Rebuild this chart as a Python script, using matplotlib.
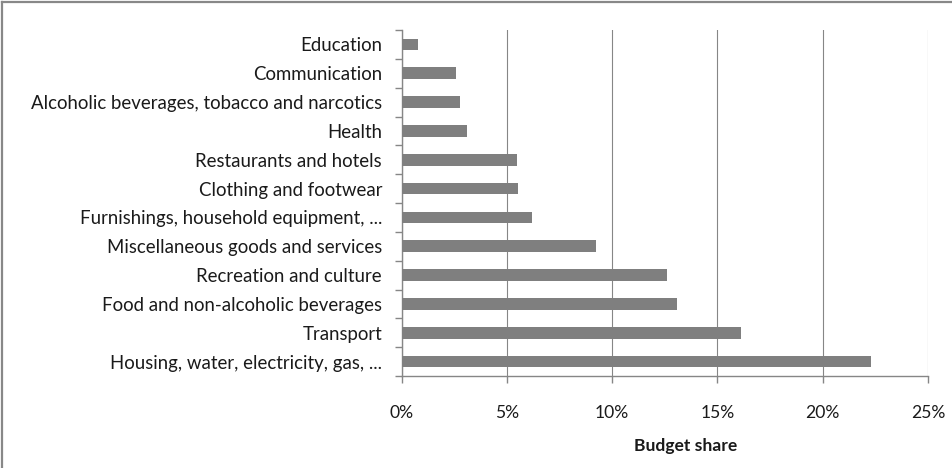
import matplotlib
matplotlib.use("Agg")
import matplotlib.pyplot as plt
import numpy as np
from matplotlib.lines import Line2D

categories = [
    "Education",
    "Communication",
    "Alcoholic beverages, tobacco and narcotics",
    "Health",
    "Restaurants and hotels",
    "Clothing and footwear",
    "Furnishings, household equipment, ...",
    "Miscellaneous goods and services",
    "Recreation and culture",
    "Food and non-alcoholic beverages",
    "Transport",
    "Housing, water, electricity, gas, ...",
]
shares = [0.79, 2.59, 2.77, 3.10, 5.49, 5.54, 6.19, 9.23, 12.63, 13.06, 16.14, 22.31]
xticks = [0, 5, 10, 15, 20, 25]
xticklabels = ["0%", "5%", "10%", "15%", "20%", "25%"]
xlabel = "Budget share"

plt.rcParams['font.family'] = ['Lato', 'DejaVu Sans']

W, H = 952, 468
fig = plt.figure(figsize=(W / 100, H / 100), dpi=100)
ax = fig.add_axes([401.5 / W, 1 - 376 / H, (928 - 401.5) / W, (376 - 30) / H])

axis_col = "#868686"
txt_col = "#1a1a1a"
ypos = np.arange(len(categories))
ax.barh(ypos, shares, height=0.4, color="#7f7f7f", zorder=3)
ax.set_ylim(len(categories) - 0.5, -0.5)
ax.set_xlim(0, 25)

ax.set_yticks(ypos)
ax.set_yticklabels(categories, fontsize=13.4, color=txt_col)
ax.set_yticks(np.arange(-0.5, len(categories), 1), minor=True)
ax.tick_params(axis="y", which="major", length=0, pad=14)
ax.tick_params(axis="y", which="minor", length=5, color=axis_col, width=1)

ax.set_xticks(xticks)
ax.set_xticklabels(xticklabels, fontsize=12.6, color=txt_col)
ax.tick_params(axis="x", which="major", length=5, color=axis_col, width=1, pad=16)

ax.grid(axis="x", color=axis_col, linewidth=0.8, zorder=0)
for s in ["top", "right"]:
    ax.spines[s].set_visible(False)
for s in ["left", "bottom"]:
    ax.spines[s].set_color(axis_col)
    ax.spines[s].set_linewidth(1)

ax.set_xlabel(xlabel, fontsize=12.6, fontweight="bold", color=txt_col)
ax.xaxis.set_label_coords((686 - 401.5) / (928 - 401.5), -(446 - 376) / (376 - 30))
ax.xaxis.label.set_verticalalignment("center")

# outer chart border (top and left visible)
fig.add_artist(Line2D([2 / W, 2 / W], [1 - 2 / H, 0], transform=fig.transFigure,
                      color="#888888", linewidth=1.6))
fig.add_artist(Line2D([2 / W, 1], [1 - 2 / H, 1 - 2 / H], transform=fig.transFigure,
                      color="#888888", linewidth=1.6))

fig.savefig("out.png", dpi=100)
